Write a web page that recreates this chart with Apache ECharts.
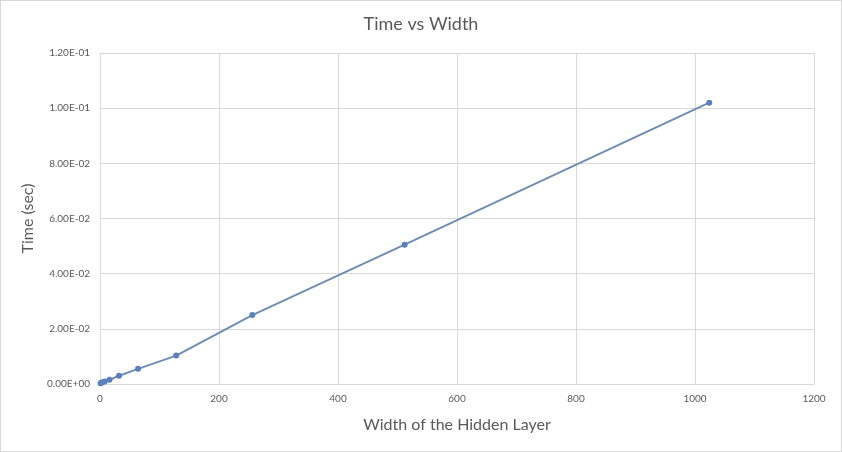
<!DOCTYPE html>
<html><head><meta charset="utf-8">
<script src="https://cdn.jsdelivr.net/npm/echarts@6/dist/echarts.min.js"></script>
<style>html,body{margin:0;padding:0;background:#fff}#c{width:842px;height:452px;box-sizing:border-box;border:1px solid #d9d9d9}</style>
</head><body><div id="c"></div>
<script>
var widths = [1, 2, 4, 8, 16, 32, 64, 128, 256, 512, 1024];
var times = [0.0003, 0.0004, 0.0006, 0.0009, 0.0015, 0.0030, 0.0055, 0.0103, 0.0250, 0.0505, 0.1020];
var titleText = 'Time vs Width';
var xName = 'Width of the Hidden Layer';
var yName = 'Time (sec)';

function sci(v){
  if (Math.abs(v) < 1e-12) return '0.00E+00';
  var e = Math.floor(Math.log10(Math.abs(v)) + 1e-9);
  var m = v / Math.pow(10, e);
  var s = e < 0 ? '-' : '+';
  var ae = Math.abs(e);
  return m.toFixed(2) + 'E' + s + (ae < 10 ? '0' + ae : ae);
}
var font = 'Lato, "Open Sans", sans-serif';
var chart = echarts.init(document.getElementById('c'));
chart.setOption({
  animation: false,
  title: { text: titleText, left: 'center', top: 9, textStyle: { fontFamily: font, fontSize: 18, fontWeight: 'normal', color: '#595959' } },
  grid: { left: 99, right: 27, top: 52, bottom: 67 },
  xAxis: {
    type: 'value', min: 0, max: 1200, interval: 200,
    name: xName, nameLocation: 'middle', nameGap: 33,
    nameTextStyle: { fontFamily: font, fontSize: 16, color: '#595959' },
    axisLine: { lineStyle: { color: '#d9d9d9' } },
    axisTick: { show: false },
    axisLabel: { fontFamily: font, fontSize: 10, color: '#595959', margin: 10, formatter: function(v){ return String(v); } },
    splitLine: { lineStyle: { color: '#d9d9d9' } }
  },
  yAxis: {
    type: 'value', min: 0, max: 0.12, interval: 0.02,
    name: yName, nameLocation: 'middle', nameGap: 64,
    nameTextStyle: { fontFamily: font, fontSize: 16, color: '#595959' },
    axisLine: { show: true, lineStyle: { color: '#d9d9d9' } },
    axisTick: { show: false },
    axisLabel: { fontFamily: font, fontSize: 10, color: '#595959', margin: 10, formatter: sci },
    splitLine: { lineStyle: { color: '#d9d9d9' } }
  },
  series: [{
    type: 'line',
    data: widths.map(function(w, i){ return [w, times[i]]; }),
    symbol: 'circle', symbolSize: 6,
    lineStyle: { color: '#6f8db3', width: 2 },
    itemStyle: { color: '#5b80bd' }
  }]
});
</script></body></html>
